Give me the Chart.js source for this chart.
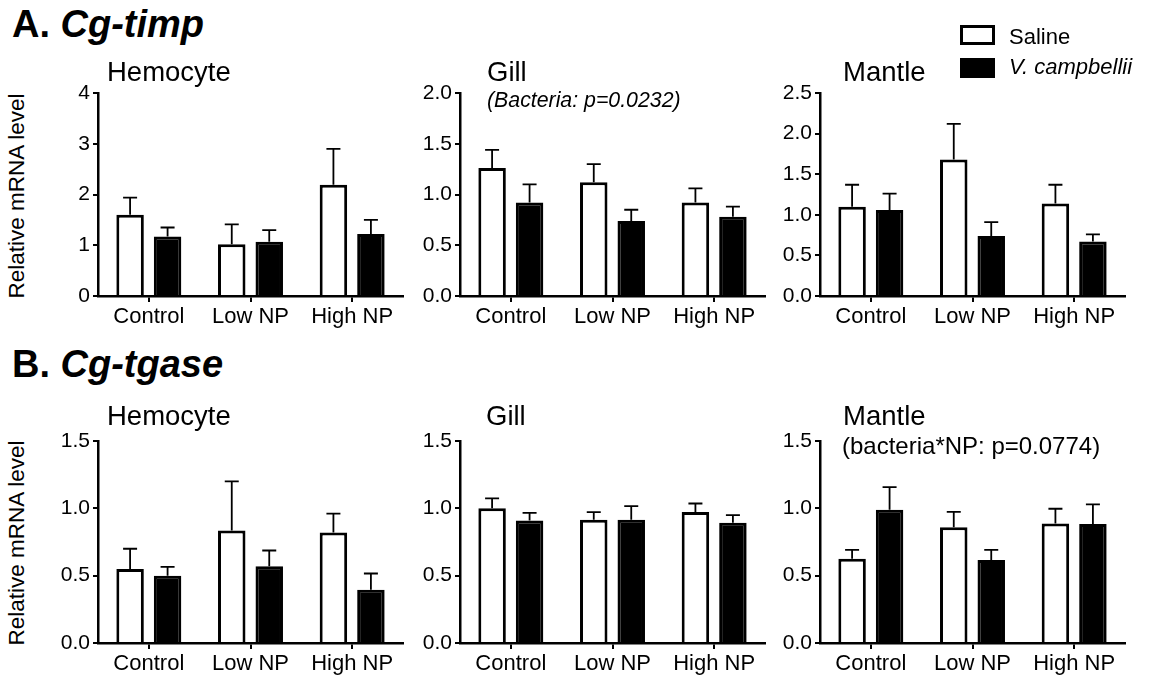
<!DOCTYPE html>
<html><head><meta charset="utf-8">
<script src="https://cdn.jsdelivr.net/npm/chart.js@4"></script>
<style>
html,body{margin:0;padding:0;background:#fff}
body{width:1152px;height:677px;position:relative;overflow:hidden;font-family:"Liberation Sans",Arial,sans-serif;color:#000}
.t{position:absolute;white-space:nowrap;line-height:1}
canvas{position:absolute}
.box{position:absolute;box-sizing:border-box;border:3px solid #000}
</style></head><body>
<script>
// ---------- DATA ----------
const categories = ['Control', 'Low NP', 'High NP'];
const seriesNames = ['Saline', 'V. campbellii'];

// A. Cg-timp
const timpHemoSaline = [1.60, 1.02, 2.19];
const timpHemoSalineSem = [0.34, 0.39, 0.71];
const timpHemoVc = [1.17, 1.07, 1.22];
const timpHemoVcSem = [0.18, 0.23, 0.28];

const timpGillSaline = [1.26, 1.12, 0.92];
const timpGillSalineSem = [0.18, 0.18, 0.14];
const timpGillVc = [0.92, 0.74, 0.78];
const timpGillVcSem = [0.18, 0.11, 0.10];

const timpMantleSaline = [1.10, 1.68, 1.14];
const timpMantleSalineSem = [0.27, 0.44, 0.23];
const timpMantleVc = [1.06, 0.74, 0.67];
const timpMantleVcSem = [0.20, 0.17, 0.09];

// B. Cg-tgase
const tgaseHemoSaline = [0.55, 0.835, 0.82];
const tgaseHemoSalineSem = [0.15, 0.365, 0.14];
const tgaseHemoVc = [0.50, 0.57, 0.395];
const tgaseHemoVcSem = [0.066, 0.117, 0.121];

const tgaseGillSaline = [1.00, 0.915, 0.972];
const tgaseGillSalineSem = [0.074, 0.057, 0.064];
const tgaseGillVc = [0.91, 0.915, 0.893];
const tgaseGillVcSem = [0.057, 0.102, 0.057];

const tgaseMantleSaline = [0.625, 0.86, 0.888];
const tgaseMantleSalineSem = [0.067, 0.114, 0.109];
const tgaseMantleVc = [0.989, 0.617, 0.883];
const tgaseMantleVcSem = [0.169, 0.075, 0.146];

// tick labels
const ticksTimpHemo = ['0', '1', '2', '3', '4'];
const ticksTimpGill = ['0.0', '0.5', '1.0', '1.5', '2.0'];
const ticksTimpMantle = ['0.0', '0.5', '1.0', '1.5', '2.0', '2.5'];
const ticksTgase = ['0.0', '0.5', '1.0', '1.5'];

// texts
const titleA = ['A. ', 'Cg-timp'];
const titleB = ['B. ', 'Cg-tgase'];
const tissues = ['Hemocyte', 'Gill', 'Mantle'];
const yTitle = 'Relative mRNA level';
const noteTimpGill = '(Bacteria: p=0.0232)';
const noteTgaseMantle = '(bacteria*NP: p=0.0774)';

// ---------- LAYOUT ----------
const FONT = '"Liberation Sans", Arial, sans-serif';
Chart.defaults.font.family = FONT;
Chart.defaults.color = '#000';

const colLeft = [98, 460, 820];
const plotW = 305;
const rowTop = [93, 441];
const rowBottom = [296, 643];
const yW = 50, padTop = 20, padRight = 12, xH = 40;

function addText(txt, left, top, size, opts = {}) {
  const d = document.createElement('div');
  d.className = 't';
  d.style.left = left + 'px';
  d.style.top = top + 'px';
  d.style.fontSize = size + 'px';
  if (opts.bold) d.style.fontWeight = 'bold';
  if (opts.italic) d.style.fontStyle = 'italic';
  if (opts.html) d.innerHTML = txt; else d.textContent = txt;
  if (opts.rotate) {
    d.style.transform = 'translate(-50%,-50%) rotate(-90deg)';
  }
  document.body.appendChild(d);
  return d;
}

const errorBars = {
  id: 'errorBars',
  afterDatasetsDraw(chart) {
    const ctx = chart.ctx;
    const ys = chart.scales.y;
    chart.data.datasets.forEach((ds, di) => {
      const meta = chart.getDatasetMeta(di);
      meta.data.forEach((bar, i) => {
        const v = ds.data[i], e = ds.errors[i];
        const yt = ys.getPixelForValue(v + e);
        ctx.save();
        ctx.strokeStyle = '#000';
        ctx.lineWidth = 1.8;
        ctx.beginPath();
        ctx.moveTo(bar.x, bar.y);
        ctx.lineTo(bar.x, yt);
        ctx.moveTo(bar.x - 7, yt);
        ctx.lineTo(bar.x + 7, yt);
        ctx.stroke();
        ctx.restore();
      });
    });
  }
};

function makePanel(row, col, saline, salineSem, vc, vcSem, tickLabels) {
  const left = colLeft[col] - yW;
  const top = rowTop[row] - padTop;
  const w = plotW + yW + padRight;
  const h = rowBottom[row] - rowTop[row] + padTop + xH;
  const c = document.createElement('canvas');
  c.width = w; c.height = h;
  c.style.left = left + 'px'; c.style.top = top + 'px';
  c.style.width = w + 'px'; c.style.height = h + 'px';
  document.body.appendChild(c);
  const maxV = parseFloat(tickLabels[tickLabels.length - 1]);
  const step = parseFloat(tickLabels[1]) - parseFloat(tickLabels[0]);
  new Chart(c, {
    type: 'bar',
    data: {
      labels: categories,
      datasets: [
        { label: seriesNames[0], data: saline, errors: salineSem, backgroundColor: '#fff', borderColor: '#000', borderWidth: 3 },
        { label: seriesNames[1], data: vc, errors: vcSem, backgroundColor: '#000', borderColor: '#000', borderWidth: 3 }
      ]
    },
    options: {
      responsive: false,
      animation: false,
      events: [],
      categoryPercentage: 0.7375,
      barPercentage: 0.733,
      layout: { padding: { left: 0, top: padTop, right: padRight, bottom: 0 } },
      plugins: { legend: { display: false }, tooltip: { enabled: false }, title: { display: false } },
      scales: {
        x: {
          z: 1,
          offset: true,
          grid: { offset: false, drawOnChartArea: false, drawTicks: true, tickLength: 6, color: '#000', lineWidth: 2 },
          border: { display: true, color: '#000', width: 2.5 },
          ticks: { font: { size: 22 }, color: '#000', padding: 2, maxRotation: 0, autoSkip: false },
          afterFit: s => { s.height = xH; }
        },
        y: {
          z: 1,
          min: 0, max: maxV,
          grid: { drawOnChartArea: false, drawTicks: true, tickLength: 5, color: '#000', lineWidth: 2 },
          border: { display: true, color: '#000', width: 2.5 },
          ticks: { stepSize: step, font: { size: 21 }, color: '#000', padding: 3,
                   callback: (v, i) => tickLabels[i] },
          afterFit: s => { s.width = yW; }
        }
      }
    },
    plugins: [errorBars]
  });
}

// ---------- PANELS ----------
makePanel(0, 0, timpHemoSaline, timpHemoSalineSem, timpHemoVc, timpHemoVcSem, ticksTimpHemo);
makePanel(0, 1, timpGillSaline, timpGillSalineSem, timpGillVc, timpGillVcSem, ticksTimpGill);
makePanel(0, 2, timpMantleSaline, timpMantleSalineSem, timpMantleVc, timpMantleVcSem, ticksTimpMantle);
makePanel(1, 0, tgaseHemoSaline, tgaseHemoSalineSem, tgaseHemoVc, tgaseHemoVcSem, ticksTgase);
makePanel(1, 1, tgaseGillSaline, tgaseGillSalineSem, tgaseGillVc, tgaseGillVcSem, ticksTgase);
makePanel(1, 2, tgaseMantleSaline, tgaseMantleSalineSem, tgaseMantleVc, tgaseMantleVcSem, ticksTgase);

// ---------- TEXT ----------
addText(titleA[0] + '<i>' + titleA[1] + '</i>', 12, 37 - 0.8465 * 38, 38, { bold: true, html: true });
addText(titleB[0] + '<i>' + titleB[1] + '</i>', 12, 377 - 0.8465 * 38, 38, { bold: true, html: true });

const titleX = [[107, 487, 843], [107, 486, 843]];
const titleBase = [81, 425];
for (let r = 0; r < 2; r++) {
  for (let cI = 0; cI < 3; cI++) {
    addText(tissues[cI], titleX[r][cI], titleBase[r] - 0.8465 * 27.5, 27.5);
  }
  addText(yTitle, 16.7, (rowTop[r] + rowBottom[r]) / 2 + 1, 22.5, { rotate: true });
}
addText(noteTimpGill, 487, 108.3 - 0.8465 * 21.3, 21.3, { italic: true });
addText(noteTgaseMantle, 842, 454 - 0.8465 * 24, 24);

// legend
const b1 = document.createElement('div'); b1.className = 'box';
Object.assign(b1.style, { left: '960px', top: '25px', width: '35px', height: '20px', background: '#fff' });
document.body.appendChild(b1);
const b2 = document.createElement('div'); b2.className = 'box';
Object.assign(b2.style, { left: '960px', top: '58px', width: '35px', height: '20px', background: '#000' });
document.body.appendChild(b2);
addText(seriesNames[0], 1009, 45 - 0.8465 * 22, 22);
addText(seriesNames[1], 1009, 75 - 0.8465 * 22, 22, { italic: true });
</script>
</body></html>
